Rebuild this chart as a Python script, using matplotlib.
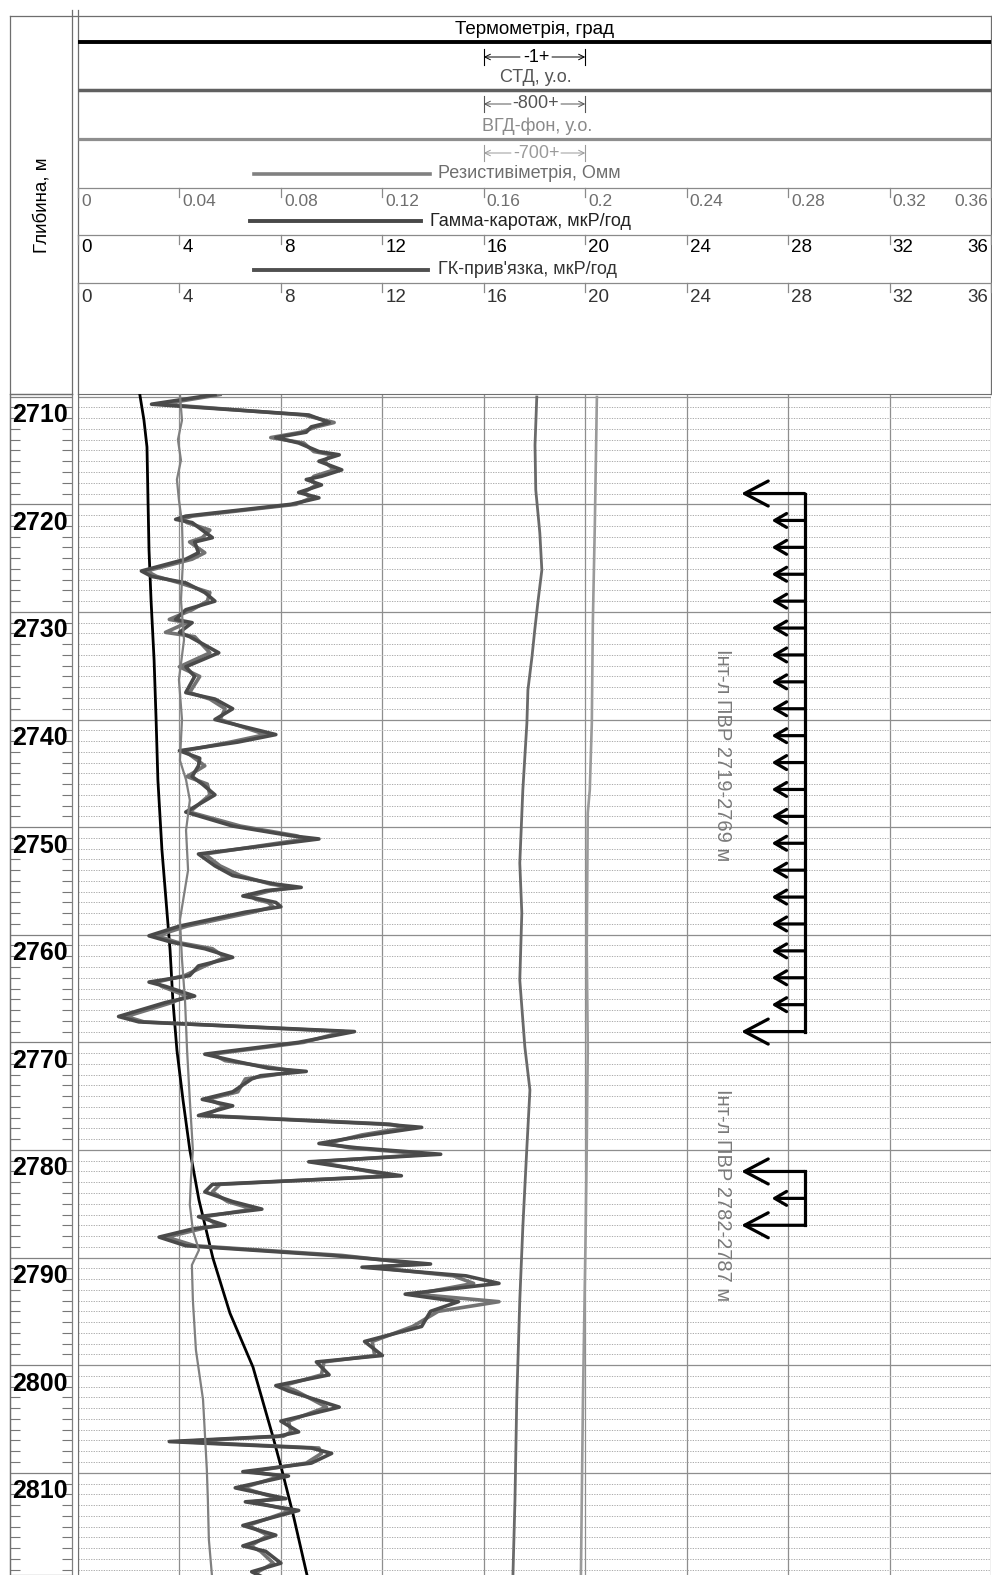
import matplotlib
matplotlib.use('Agg')
import matplotlib.pyplot as plt
import numpy as np
from matplotlib.transforms import blended_transform_factory, offset_copy
from matplotlib.ticker import MultipleLocator

plt.rcParams['font.family'] = ['Liberation Sans', 'DejaVu Sans']

# ---------------- DATA ----------------
DEPTH_TOP, DEPTH_BOT = 2709.75, 2819.5
DEPTH_LABELS = [2710, 2720, 2730, 2740, 2750, 2760, 2770, 2780, 2790, 2800, 2810]

GAMMA_TICKS = [0, 4, 8, 12, 16, 20, 24, 28, 32, 36]
RES_TICKS = [0, 0.04, 0.08, 0.12, 0.16, 0.2, 0.24, 0.28, 0.32, 0.36]

# Thermometry (relative track units)
THERM_DEPTH = [2709.84, 2712.17, 2714.68, 2719.60, 2724.25, 2728.90, 2734.47, 2740.05,
               2745.62, 2752.13, 2756.78, 2761.42, 2766.07, 2770.72, 2775.36, 2780.01,
               2784.66, 2790.05, 2795.16, 2800.18, 2806.68, 2809.75, 2813.75, 2819.51]
THERM_VAL = [2.44, 2.60, 2.72, 2.76, 2.80, 2.88, 3.00, 3.08,
             3.15, 3.31, 3.47, 3.63, 3.74, 3.90, 4.14, 4.41,
             4.77, 5.32, 5.99, 6.90, 7.69, 8.04, 8.47, 9.03]

# СТД
STD_DEPTH = [2710.03, 2714.5, 2718.67, 2722.67, 2726.11, 2729.17, 2731.68, 2734.19, 2737.26,
             2740.33, 2746.55, 2753.34, 2757.98, 2764.21, 2770.44, 2774.43, 2779.73,
             2787.16, 2793.95, 2803.24, 2812.54, 2819.51]
STD_VAL = [18.09, 18.02, 18.05, 18.21, 18.29, 18.13, 18.01, 17.90, 17.74,
           17.70, 17.54, 17.42, 17.50, 17.42, 17.62, 17.82, 17.70,
           17.54, 17.42, 17.30, 17.23, 17.15]

# ВГД-фон
VGD_DEPTH = [2710.03, 2721.74, 2731.03, 2740.33, 2746.55, 2748.69, 2761.14, 2770.44,
             2779.73, 2787.16, 2803.24, 2819.51]
VGD_VAL = [20.46, 20.38, 20.30, 20.26, 20.18, 20.10, 20.06, 20.10,
           20.06, 20.02, 19.91, 19.83]

# Резистивіметрія, Омм
RES_DEPTH = [2709.8, 2712.2, 2714.0, 2715.9, 2717.7, 2719.6, 2721.7, 2725.2, 2728.9, 2732.6,
             2736.3, 2740.0, 2743.8, 2745.6, 2747.5, 2750.3, 2754.0, 2758.6, 2762.3, 2766.1,
             2770.7, 2775.4, 2780.0, 2782.8, 2785.1, 2787.5, 2789.3, 2790.7, 2794.0, 2798.6,
             2803.2, 2809.7, 2812.5, 2816.2, 2819.5]
RES_VAL = [0.0402, 0.0410, 0.0394, 0.0406, 0.0390, 0.0398, 0.0410, 0.0414, 0.0406, 0.0418,
           0.0398, 0.0410, 0.0402, 0.0426, 0.0441, 0.0426, 0.0434, 0.0402, 0.0410, 0.0422,
           0.0430, 0.0441, 0.0453, 0.0445, 0.0441, 0.0453, 0.0477, 0.0449, 0.0453, 0.0465,
           0.0493, 0.0508, 0.0512, 0.0516, 0.0528]

# Гамма-каротаж and ГК-прив'язка, мкР/год
GK_DEPTH = [2709.8, 2710.7, 2711.7, 2712.4, 2712.8, 2713.3, 2713.8, 2714.3, 2715.1, 2715.4,
            2716.0, 2716.8, 2717.4, 2717.7, 2718.2, 2718.9, 2719.4, 2720.0, 2721.1, 2721.4,
            2721.7, 2722.4, 2723.1, 2723.5, 2724.5, 2725.1, 2726.2, 2726.7, 2727.3, 2728.2,
            2729.0, 2729.8, 2730.7, 2731.0, 2731.9, 2732.3, 2733.8, 2735.1, 2736.0, 2737.5,
            2738.1, 2739.0, 2740.0, 2741.4, 2742.1, 2742.9, 2743.6, 2744.3, 2745.3, 2746.0,
            2747.0, 2748.6, 2749.9, 2750.8, 2751.1, 2752.5, 2753.6, 2754.5, 2755.3, 2755.6,
            2755.9, 2756.4, 2756.7, 2757.0, 2757.4, 2757.9, 2759.2, 2760.1, 2760.7, 2761.3,
            2762.1, 2762.9, 2763.8, 2764.4, 2764.8, 2765.7, 2766.3, 2767.6, 2768.1, 2769.0,
            2770.0, 2771.1, 2771.7, 2772.4, 2772.7, 2773.1, 2773.4, 2774.6, 2775.3, 2775.9,
            2776.8, 2777.6, 2777.9, 2778.6, 2779.4, 2779.8, 2780.4, 2781.1, 2782.4, 2783.2,
            2783.9, 2784.8, 2785.5, 2786.2, 2787.0, 2787.3, 2788.1, 2788.9, 2789.8, 2790.6,
            2790.9, 2791.7, 2792.4, 2793.4, 2794.1, 2795.0, 2796.4, 2797.8, 2799.1, 2799.7,
            2800.9, 2801.9, 2802.4, 2803.9, 2805.2, 2806.2, 2806.6, 2807.1, 2807.7, 2808.2,
            2809.1, 2809.9, 2810.3, 2811.4, 2812.4, 2812.7, 2813.5, 2814.9, 2815.8, 2816.8,
            2817.3, 2818.4, 2819.2, 2819.6]
GAMMA_VAL = [5.4, 2.9, 9.1, 9.9, 9.2, 9.0, 7.8, 8.7, 9.5, 10.3,
             9.5, 10.4, 9.6, 9.0, 9.6, 8.7, 9.5, 8.4, 4.25, 3.85,
             4.5, 4.9, 5.3, 4.6, 4.75, 4.25, 2.5, 2.9, 4.25, 5.0,
             5.4, 4.25, 3.85, 4.5, 4.0, 4.4, 5.55, 4.25, 4.6, 4.25,
             5.4, 6.1, 5.4, 7.8, 6.3, 4.0, 4.8, 4.75, 4.5, 4.9,
             5.4, 4.25, 6.1, 8.4, 9.5, 4.75, 5.4, 6.1, 7.8, 8.8,
             7.4, 6.5, 7.2, 7.8, 8.0, 6.6, 4.0, 2.8, 3.7, 5.0,
             6.1, 4.75, 4.4, 2.8, 3.45, 4.6, 3.45, 1.6, 2.4, 10.9,
             8.7, 5.0, 6.1, 7.5, 9.0, 7.2, 6.85, 6.1, 4.9, 6.1,
             4.75, 12.0, 13.55, 11.5, 9.5, 11.0, 14.3, 9.1, 12.75, 5.3,
             5.0, 6.1, 7.25, 4.75, 5.8, 4.6, 3.2, 4.25, 10.0, 13.9,
             11.2, 15.3, 16.6, 12.9, 15.0, 13.9, 13.55, 11.3, 12.0, 9.4,
             9.9, 7.8, 8.3, 10.3, 8.0, 8.7, 7.9, 3.6, 9.2, 10.0,
             9.2, 6.5, 8.3, 6.2, 8.2, 6.6, 8.7, 6.5, 7.8, 6.5,
             7.4, 8.0, 6.85, 7.2]
TIE_VAL = [5.6, 3.3, 8.9, 10.1, 9.4, 8.8, 7.6, 8.9, 9.3, 10.0,
           9.7, 10.1, 9.3, 9.2, 9.4, 8.9, 9.2, 8.6, 4.5, 4.1,
           4.3, 5.2, 4.9, 4.4, 5.0, 4.5, 2.7, 3.1, 4.0, 5.2,
           5.1, 4.5, 3.6, 4.3, 3.45, 4.6, 5.2, 4.0, 4.8, 4.4,
           5.2, 5.8, 5.6, 7.4, 6.0, 4.2, 4.6, 5.0, 4.3, 5.1,
           5.2, 4.4, 6.4, 8.6, 9.0, 5.0, 5.6, 6.4, 7.6, 8.5,
           7.6, 6.8, 7.0, 7.5, 7.7, 6.9, 4.3, 3.1, 3.9, 5.3,
           5.8, 5.0, 4.2, 3.1, 3.3, 4.3, 3.7, 1.9, 2.6, 10.5,
           8.9, 5.3, 5.8, 7.8, 8.6, 7.5, 6.6, 6.3, 5.1, 5.8,
           5.0, 12.3, 13.0, 11.2, 9.8, 10.7, 13.8, 9.4, 12.4, 5.6,
           5.3, 5.9, 6.9, 5.0, 5.5, 4.9, 3.5, 4.6, 10.4, 13.5,
           11.6, 14.8, 15.6, 13.3, 16.6, 14.2, 13.2, 11.6, 11.7, 9.7,
           9.6, 8.1, 8.6, 9.8, 8.3, 8.4, 8.1, 4.0, 9.5, 9.6,
           9.0, 6.8, 8.0, 6.5, 7.9, 6.9, 8.4, 6.7, 7.5, 6.8,
           7.2, 7.7, 7.1, 7.0]

# Perforation intervals (ПВР)
PERF1_DEPTHS = [2719, 2721.5, 2724, 2726.5, 2729, 2731.5, 2734, 2736.5, 2739, 2741.5, 2744,
                2746.5, 2749, 2751.5, 2754, 2756.5, 2759, 2761.5, 2764, 2766.5, 2769]
PERF2_DEPTHS = [2782, 2784.5, 2787]
PERF_LABELS = ["Інт-л ПВР 2719-2769 м", "Інт-л ПВР 2782-2787 м"]

# ---------------- FIGURE ----------------
W, H = 992, 1575
fig = plt.figure(figsize=(W / 100, H / 100), dpi=100)
fig.patch.set_facecolor('white')

def fx(px):
    return px / W

def fy(py):
    return 1 - py / H

TOP_PX = 394
ax = fig.add_axes([fx(78), 0, fx(991) - fx(78), fy(TOP_PX)])
ax.set_xlim(0, 36)
ax.set_ylim(DEPTH_BOT, DEPTH_TOP)
ax.set_xticks(GAMMA_TICKS)
ax.yaxis.set_major_locator(MultipleLocator(10))
ax.yaxis.set_minor_locator(MultipleLocator(1))
ax.grid(which='major', axis='both', color='#8e8e8e', lw=0.9)
ax.grid(which='minor', axis='y', color='#ababab', lw=0.7, linestyle=(0, (1.3, 1.3)))
ax.tick_params(which='both', length=0, labelbottom=False, labelleft=False)
for s in ['bottom', 'right']:
    ax.spines[s].set_visible(False)
ax.spines['left'].set_color('#707070')
ax.spines['top'].set_color('#707070')
ax.set_axisbelow(True)

rax = ax.twiny()
rax.set_xlim(RES_TICKS[0], RES_TICKS[-1])
rax.axis('off')

# depth column
dax = fig.add_axes([fx(10), 0, fx(72) - fx(10), fy(TOP_PX)])
dax.set_xlim(0, 1)
dax.set_ylim(DEPTH_BOT, DEPTH_TOP)
dax.yaxis.set_major_locator(MultipleLocator(10))
dax.yaxis.set_minor_locator(MultipleLocator(1))
dax.set_xticks([])
dax.tick_params(which='minor', direction='in', length=7.5, width=0.8, color='#777777',
                left=True, right=True)
dax.tick_params(which='major', length=0, labelleft=False)
dax.grid(which='major', axis='y', color='#808080', lw=0.9)
for s in dax.spines.values():
    s.set_color('#808080')
    s.set_linewidth(0.9)
for d in DEPTH_LABELS:
    dax.text(0.48, d + 0.6, str(d), ha='center', va='top', fontsize=18,
             fontweight='bold', color='black')

# curves
ax.plot(THERM_VAL, THERM_DEPTH, color='black', lw=2.0, zorder=5)
ax.plot(STD_VAL, STD_DEPTH, color='#6a6a6a', lw=2.0, zorder=4)
ax.plot(VGD_VAL, VGD_DEPTH, color='#9a9a9a', lw=1.9, zorder=4)
rax.plot(RES_VAL, RES_DEPTH, color='#808080', lw=1.6, zorder=4)
ax.plot(TIE_VAL, GK_DEPTH, color='#737373', lw=2.6, zorder=6, solid_joinstyle='round')
ax.plot(GAMMA_VAL, GK_DEPTH, color='#4a4a4a', lw=2.6, zorder=7, solid_joinstyle='round')

# perforation arrows
BAR_X, BIG_TIP, SMALL_TIP = 28.65, 26.15, 27.35
for depths in (PERF1_DEPTHS, PERF2_DEPTHS):
    ax.plot([BAR_X, BAR_X], [depths[0], depths[-1]], color='black', lw=2.3,
            solid_capstyle='projecting', zorder=8)
    for i, d in enumerate(depths):
        big = i == 0 or i == len(depths) - 1
        tip = BIG_TIP if big else SMALL_TIP
        style = '->,head_length=1.7,head_width=0.9' if big else '->,head_length=0.85,head_width=0.5'
        ax.annotate('', xy=(tip, d), xytext=(BAR_X, d),
                    arrowprops=dict(arrowstyle=style, lw=2.3, color='black',
                                    shrinkA=0, shrinkB=0, mutation_scale=10),
                    zorder=8)
ax.text(25.4, 2743.3, PERF_LABELS[0], rotation=-90, ha='center', va='center',
        fontsize=14.5, color='#7a7a7a', zorder=8)
ax.text(25.4, 2784.2, PERF_LABELS[1], rotation=-90, ha='center', va='center',
        fontsize=14.5, color='#7a7a7a', zorder=8)

# ---------------- HEADER / FRAME overlay ----------------
ov = fig.add_axes([0, 0, 1, 1], facecolor='none')
ov.set_xlim(0, W)
ov.set_ylim(H, 0)
ov.axis('off')

frame_c = '#6e6e6e'
ov.plot([10, 991], [16, 16], color=frame_c, lw=0.9)
ov.plot([10, 10], [16, H], color=frame_c, lw=0.9)
ov.plot([72, 72], [10, TOP_PX], color=frame_c, lw=0.9)
ov.plot([77.5, 77.5], [10, TOP_PX], color=frame_c, lw=0.9)
ov.plot([990.5, 990.5], [16, TOP_PX], color=frame_c, lw=0.9)
ov.plot([10, 72], [TOP_PX, TOP_PX], color=frame_c, lw=0.9)

# header curve-legend bands
ov.plot([78, 991], [42, 42], color='black', lw=2.8, solid_capstyle='butt')
ov.plot([78, 991], [90, 90], color='#606060', lw=2.5, solid_capstyle='butt')
ov.plot([78, 991], [139, 139], color='#8e8e8e', lw=2.3, solid_capstyle='butt')

fs = 13
ov.text(535, 29, 'Термометрія, град', ha='center', va='center', fontsize=13.5, color='black')
ov.text(536, 78, 'СТД, у.о.', ha='center', va='center', fontsize=fs, color='#555555')
ov.text(537, 126, 'ВГД-фон, у.о.', ha='center', va='center', fontsize=fs, color='#8a8a8a')

trans_g = blended_transform_factory(ax.transData, ov.transData)

def scale_bar(y, txt, half, color):
    ov.text(536, y, txt, ha='center', va='center', fontsize=fs, color=color)
    x0, x1 = 16, 20
    ov.plot([x0, x0], [y - 8, y + 8], color=color, lw=0.8, transform=trans_g)
    ov.plot([x1, x1], [y - 8, y + 8], color=color, lw=0.8, transform=trans_g)
    ov.annotate('', xy=(x0, y), xycoords=trans_g, xytext=(536 - half, y),
                textcoords='data',
                arrowprops=dict(arrowstyle='->', lw=0.7, color=color,
                                shrinkA=0, shrinkB=0))
    ov.annotate('', xy=(x1, y), xycoords=trans_g, xytext=(536 + half, y),
                textcoords='data',
                arrowprops=dict(arrowstyle='->', lw=0.7, color=color,
                                shrinkA=0, shrinkB=0))

scale_bar(57, '-1+', 16, 'black')
scale_bar(104, '-800+', 25, '#555555')
scale_bar(153, '-700+', 25, '#9a9a9a')

# legend samples + names
ov.plot([254, 430], [174, 174], color='#808080', lw=2.6)
ov.text(438, 174, 'Резистивіметрія, Омм', ha='left', va='center', fontsize=fs, color='#6e6e6e')
ov.plot([250, 421], [221, 221], color='#484848', lw=2.8)
ov.text(430, 221, 'Гамма-каротаж, мкР/год', ha='left', va='center', fontsize=fs, color='#222222')
ov.plot([254, 428], [270, 270], color='#505050', lw=2.8)
ov.text(438, 270, "ГК-прив'язка, мкР/год", ha='left', va='center', fontsize=fs, color='#333333')

# scale rows
def scale_row(y_line, y_lab, ticks, axis_for, labels, color, size):
    tr = blended_transform_factory(axis_for.transData, ov.transData)
    ov.plot([78, 991], [y_line, y_line], color='#8a8a8a', lw=0.9)
    for i, (t, lab) in enumerate(zip(ticks, labels)):
        ov.plot([t, t], [y_line, y_line + 9], color='#8a8a8a', lw=0.9, transform=tr)
        if i == len(ticks) - 1:
            ov.text(t, y_lab, lab, ha='right', va='center', fontsize=size, color=color,
                    transform=offset_copy(tr, fig=fig, x=-3, y=0, units='dots'))
        else:
            ov.text(t, y_lab, lab, ha='left', va='center', fontsize=size, color=color,
                    transform=offset_copy(tr, fig=fig, x=3, y=0, units='dots'))

scale_row(188, 201, RES_TICKS, rax, [f'{v:g}' for v in RES_TICKS], '#6e6e6e', 12.5)
scale_row(235, 248, GAMMA_TICKS, ax, [str(v) for v in GAMMA_TICKS], '#000000', 13.5)
scale_row(283, 297, GAMMA_TICKS, ax, [str(v) for v in GAMMA_TICKS], '#333333', 13.5)

ov.text(42, 205, 'Глибина, м', rotation=90, ha='center', va='center', fontsize=13.5,
        color='black')

fig.savefig('out.png', dpi=100, facecolor='white')
